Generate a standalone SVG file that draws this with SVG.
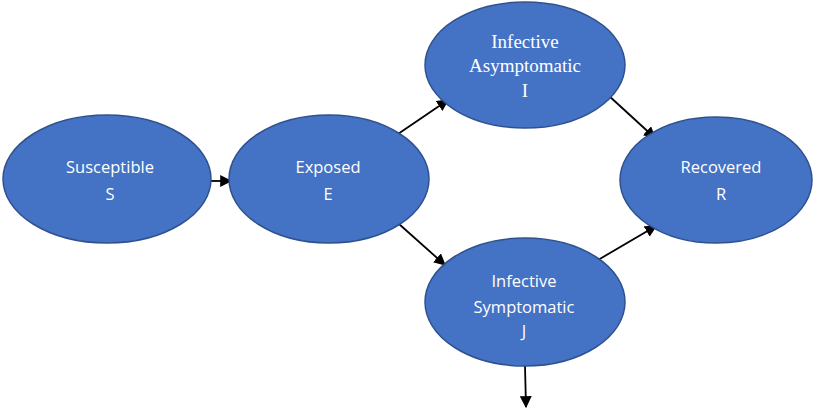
<svg xmlns="http://www.w3.org/2000/svg" width="814" height="410" viewBox="0 0 814 410">
<defs>
<style>
.node{fill:#4472C4;stroke:#2F528F;stroke-width:1.5}
.t{fill:#fff;font-family:"Open Sans","Liberation Sans",sans-serif;font-size:16.5px;text-anchor:middle}
.ts{fill:#fff;font-family:"Liberation Serif",serif;font-size:19px;text-anchor:middle}
.c{stroke:#000;stroke-width:1.8;fill:none;marker-end:url(#ah)}
</style>
<marker id="ah" viewBox="0 0 10 10" refX="9" refY="5" markerWidth="12" markerHeight="12" markerUnits="userSpaceOnUse" orient="auto">
<path d="M0,0 L10,5 L0,10 z" fill="#000"/>
</marker>
</defs>
<rect width="814" height="410" fill="#fff"/>
<g id="connectors">
<line class="c" x1="207" y1="181" x2="231" y2="181"/>
<line class="c" x1="398" y1="134" x2="448" y2="100"/>
<line class="c" x1="608" y1="95" x2="655" y2="138"/>
<line class="c" x1="399" y1="224" x2="445" y2="265"/>
<line class="c" x1="598" y1="260" x2="656" y2="226"/>
<line class="c" x1="525" y1="366" x2="526" y2="407"/>
</g>
<g id="S">
<ellipse class="node" cx="107" cy="179" rx="104" ry="64"/>
<text class="t" x="110" y="173">Susceptible</text>
<text class="t" x="110" y="200">S</text>
</g>
<g id="E">
<ellipse class="node" cx="329" cy="179" rx="100" ry="64"/>
<text class="t" x="328" y="173">Exposed</text>
<text class="t" x="328" y="200">E</text>
</g>
<g id="I">
<ellipse class="node" cx="525" cy="65" rx="100" ry="63"/>
<text class="ts" x="525" y="48">Infective</text>
<text class="ts" x="525" y="72">Asymptomatic</text>
<text class="ts" x="525" y="97">I</text>
</g>
<g id="R">
<ellipse class="node" cx="716" cy="180" rx="96" ry="63"/>
<text class="t" x="721" y="173">Recovered</text>
<text class="t" x="721" y="200">R</text>
</g>
<g id="J">
<ellipse class="node" cx="525" cy="302" rx="100" ry="64"/>
<text class="t" x="524" y="287">Infective</text>
<text class="t" x="524" y="313">Symptomatic</text>
<text class="t" x="524" y="337">J</text>
</g>
</svg>
